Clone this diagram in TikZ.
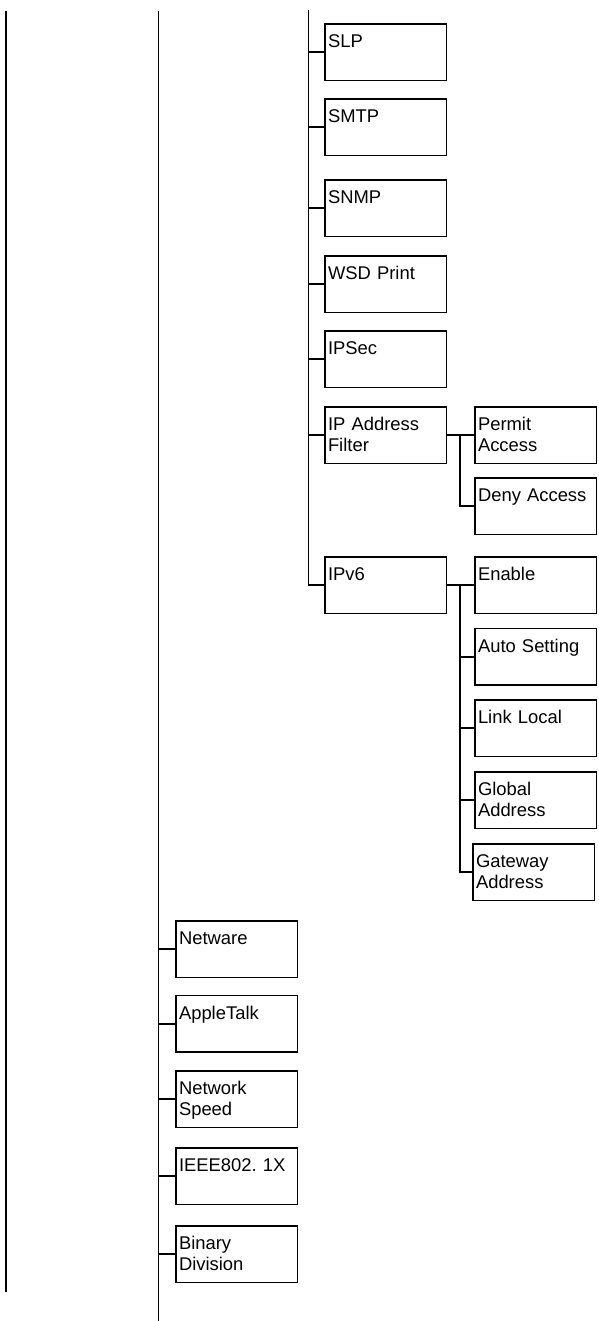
\documentclass[tikz,border=0pt]{standalone}
\usepackage{fontspec}
\setmainfont{Liberation Sans}
\frenchspacing
\hyphenpenalty=10000
\begin{document}
\begin{tikzpicture}[x=1bp,y=-1bp,line width=1.8bp,
  box/.style={draw,rectangle,anchor=north west,inner xsep=3bp,inner ysep=0pt,outer sep=0pt,
    text width=115.5bp,align=left,text height=23.5bp,text depth=33bp,
    font=\fontsize{18.4bp}{21bp}\selectfont}]
\useasboundingbox (0,0) rectangle (599,1321);
% trunks
\coordinate (t1a) at (5.7,11);
\coordinate (t1b) at (5.7,1292);
\coordinate (t2a) at (158.5,11);
\coordinate (t2b) at (158.5,1321);
\coordinate (t3a) at (308.5,10.5);
\coordinate (j) at (460,0);
\draw (t1a) -- (t1b);
\draw (t2a) -- (t2b);
% column 3
\node[box] (slp) at (325,24) {SLP};
\node[box] (smtp) at (325,99) {SMTP};
\node[box] (snmp) at (325,180) {SNMP};
\node[box] (wsd) at (325,256) {WSD Print};
\node[box] (ipsec) at (325,331) {IPSec};
\node[box] (ipaf) at (325,407) {IP Address\\Filter};
\node[box] (ipv6) at (325,557) {IPv6};
% column 4
\node[box] (permit) at (475,407) {Permit\\Access};
\node[box] (deny) at (475,478) {Deny Access};
\node[box] (enable) at (475,557) {Enable};
\node[box] (auto) at (475,628.5) {Auto Setting};
\node[box] (link) at (475,700) {Link Local};
\node[box] (global) at (475,772) {Global\\Address};
\node[box] (gateway) at (473,844) {Gateway\\Address};
% column 2
\node[box] (netware) at (176,921) {Netware};
\node[box] (apple) at (176,995.5) {AppleTalk};
\node[box] (speed) at (176,1071) {Network\\Speed};
\node[box] (ieee) at (176,1148) {IEEE802. 1X};
\node[box] (binary) at (176,1226) {Binary\\Division};
% column 3 connectors
\draw (t3a) |- (ipv6.west);
\foreach \n in {slp,smtp,snmp,wsd,ipsec,ipaf}{\draw (\n.west) -- (\n.west -| t3a);}
% IP address filter
\draw (ipaf.east) -- (permit.west);
\draw (ipaf.east -| j) |- (deny.west);
% IPv6
\draw (ipv6.east) -- (enable.west);
\draw (ipv6.east -| j) |- (gateway.west);
\foreach \n in {auto,link,global}{\draw (\n.west) -- (\n.west -| j);}
% column 2 connectors
\foreach \n in {netware,apple,speed,ieee,binary}{\draw (\n.west) -- (\n.west -| t2a);}
\end{tikzpicture}
\end{document}
